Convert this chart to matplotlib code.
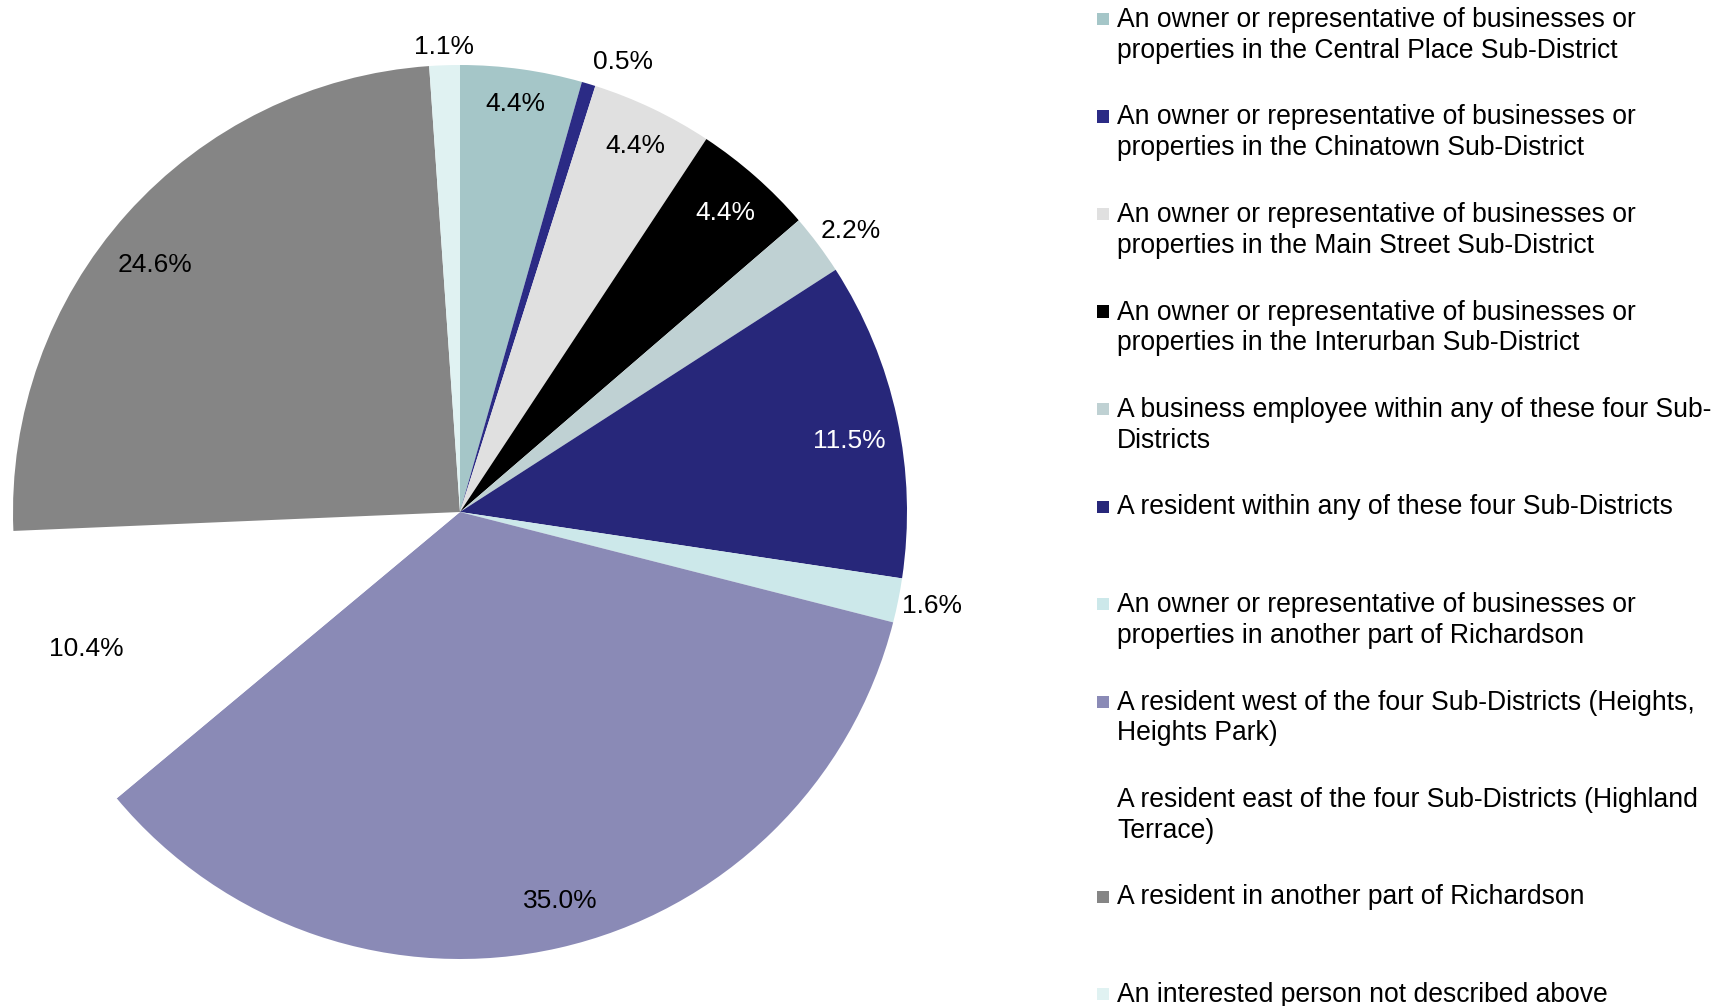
import matplotlib
matplotlib.use("Agg")
import matplotlib.pyplot as plt
from matplotlib.patches import Rectangle
import numpy as np

plt.rcParams['font.family'] = ['Liberation Sans', 'DejaVu Sans']

categories = [
    "An owner or representative of businesses or\nproperties in the Central Place Sub-District",
    "An owner or representative of businesses or\nproperties in the Chinatown Sub-District",
    "An owner or representative of businesses or\nproperties in the Main Street Sub-District",
    "An owner or representative of businesses or\nproperties in the Interurban Sub-District",
    "A business employee within any of these four Sub-\nDistricts",
    "A resident within any of these four Sub-Districts",
    "An owner or representative of businesses or\nproperties in another part of Richardson",
    "A resident west of the four Sub-Districts (Heights,\nHeights Park)",
    "A resident east of the four Sub-Districts (Highland\nTerrace)",
    "A resident in another part of Richardson",
    "An interested person not described above",
]
shares = [4.4, 0.5, 4.4, 4.4, 2.2, 11.5, 1.6, 35.0, 10.4, 24.6, 1.1]
colors = ["#A5C6C8", "#2B2B85", "#E0E0E0", "#000000", "#BFD1D3", "#27277A",
          "#CCE8EA", "#8A8AB6", "#FFFFFF", "#858585", "#E0F2F2"]
label_colors = ["black", "black", "black", "white", "black", "white",
                "black", "black", "black", "black", "black"]
# radial distance (fraction of radius) and angular nudge (degrees) of each value label
label_dist = [0.927, 1.077, 0.914, 0.899, 1.081, 0.886, 1.076, 0.894, 0.889, 0.882, 1.047]
label_nudge = [0.3, -3.1, 0.1, 0.0, -0.8, -1.4, 0.5, 1.7, -1.4, 2.6, 0.0]

W, H = 1719, 1006
fig = plt.figure(figsize=(W / 100, H / 100), dpi=100)

cx, cy, R = 460, 512, 447
ax = fig.add_axes([(cx - R) / W, (H - cy - R) / H, 2 * R / W, 2 * R / H])
wedges, _ = ax.pie(shares, colors=colors, startangle=90, counterclock=False,
                   radius=1.0, wedgeprops=dict(linewidth=0))
ax.set_xlim(-1, 1)
ax.set_ylim(-1, 1)
ax.set_aspect('equal')
ax.axis('off')

for w, v, d, nd, lc in zip(wedges, shares, label_dist, label_nudge, label_colors):
    mid = np.deg2rad((w.theta1 + w.theta2) / 2 + nd)
    ax.text(d * np.cos(mid), d * np.sin(mid), f"{v:.1f}%", ha='center',
            va='center_baseline', fontsize=19, color=lc, clip_on=False)

# Legend drawn on the right, one entry per category
sq = 12
x_sq = 1097
x_txt = 1117
first_base = 27
step = 97.5
line_gap = 30.6
for i, (lab, col) in enumerate(zip(categories, colors)):
    base = first_base + i * step
    fig.patches.append(Rectangle((x_sq / W, (H - (base - 2)) / H), sq / W, sq / H,
                                 transform=fig.transFigure, facecolor=col,
                                 edgecolor='none'))
    for j, line in enumerate(lab.split("\n")):
        fig.text(x_txt / W, (H - (base + j * line_gap)) / H, line,
                 ha='left', va='baseline', fontsize=19.1, color='black')

fig.savefig("out.png", dpi=100, facecolor='white')
